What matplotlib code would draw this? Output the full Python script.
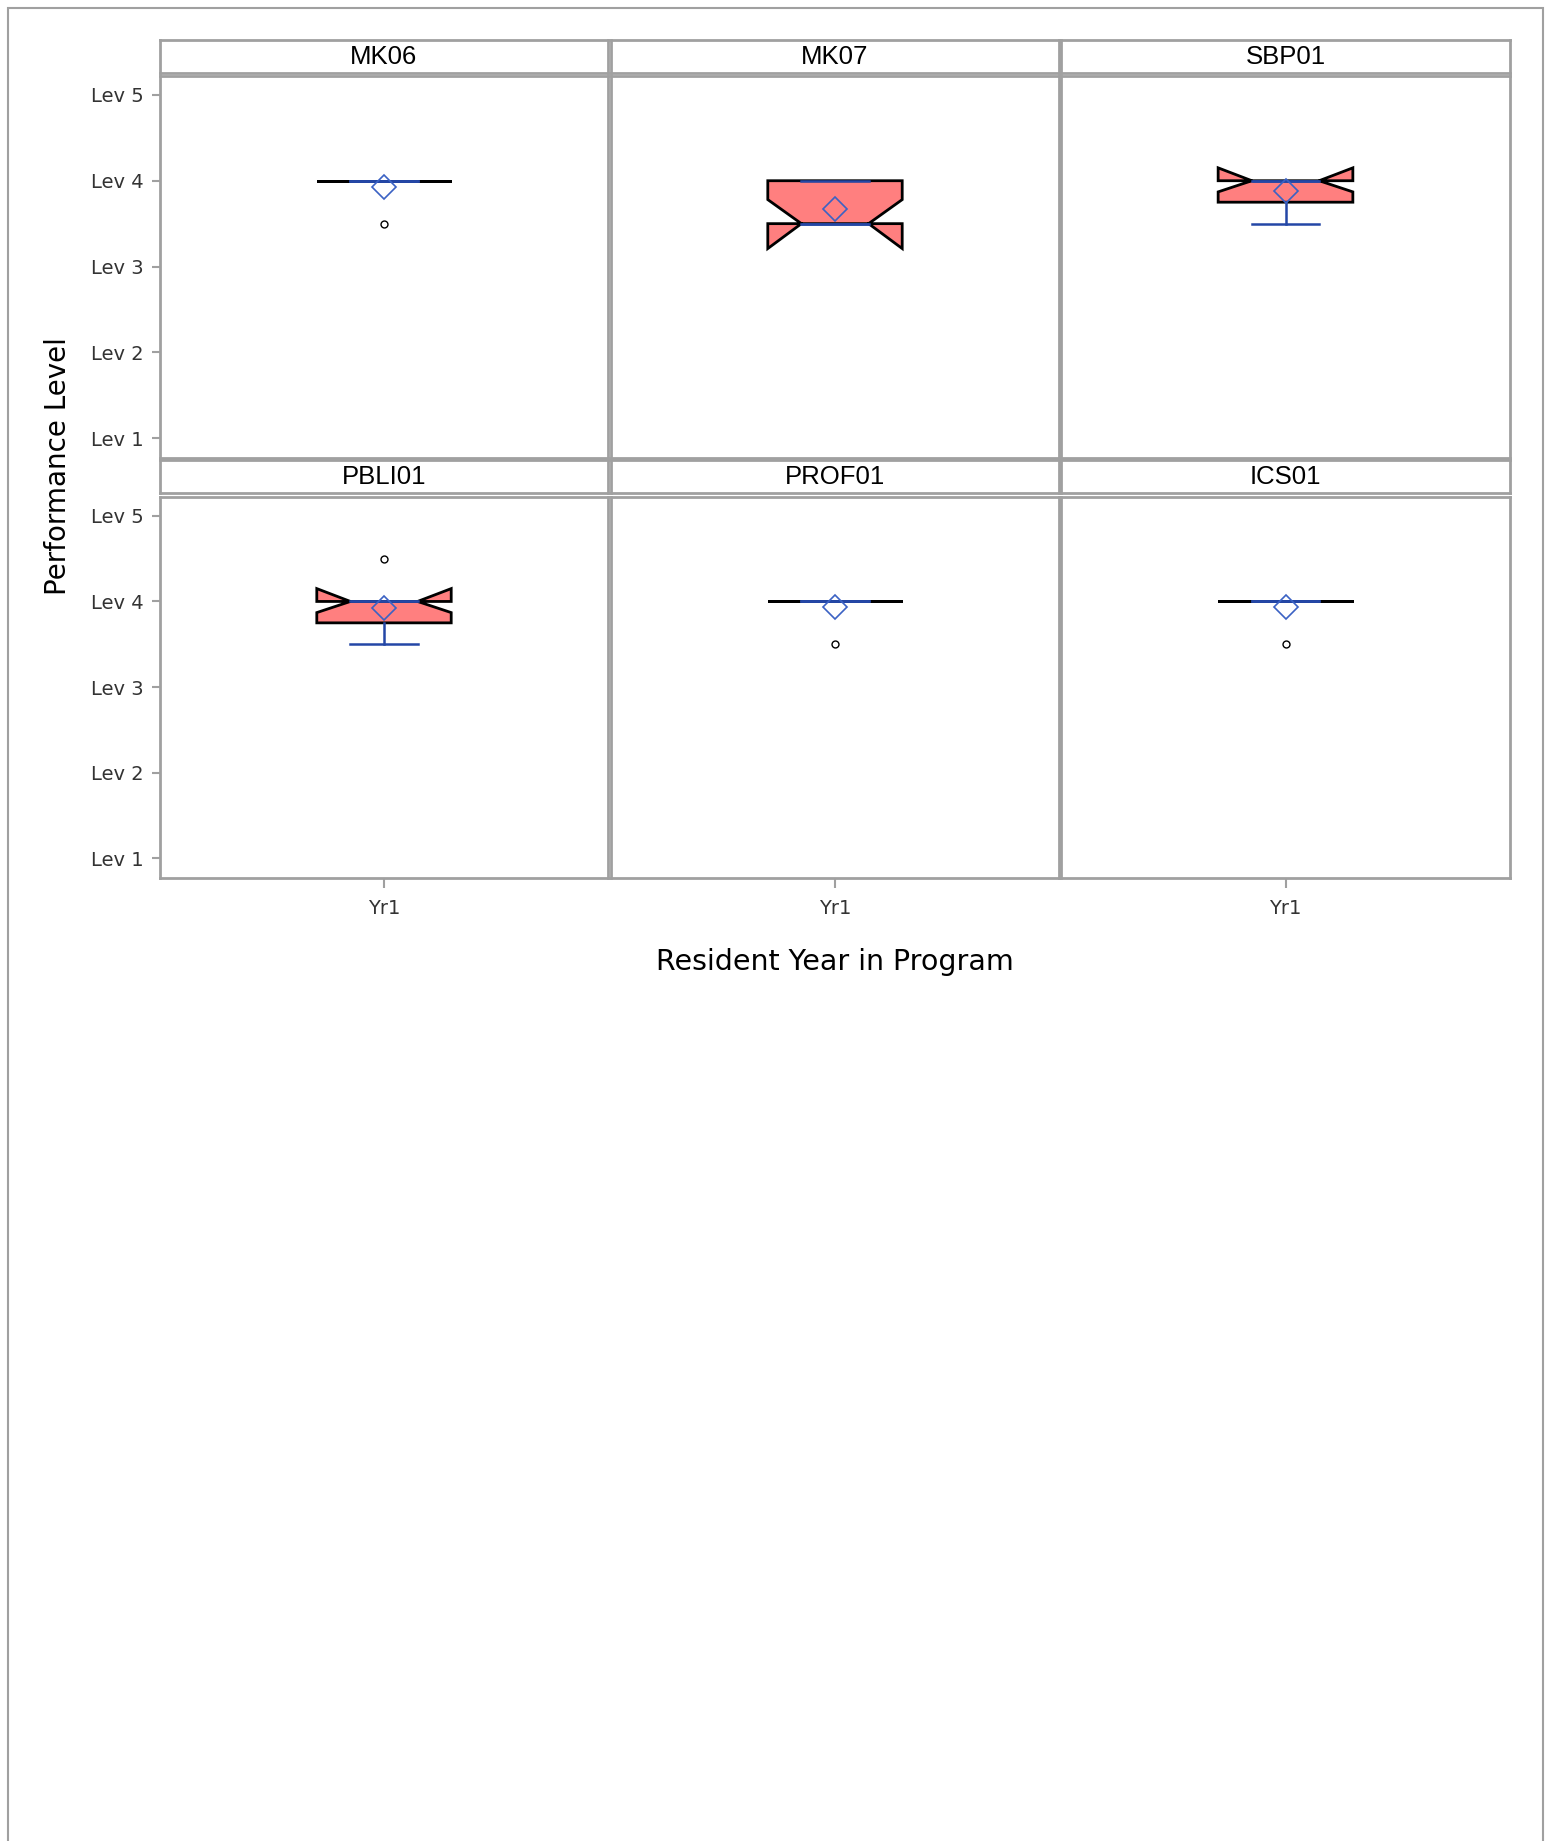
import matplotlib
matplotlib.use('Agg')
import matplotlib.pyplot as plt
from matplotlib.patches import Rectangle

# summary stats per panel
panels = ['MK06', 'MK07', 'SBP01', 'PBLI01', 'PROF01', 'ICS01']
q1 = [4.0, 3.5, 3.75, 3.75, 4.0, 4.0]
med = [4.0, 3.5, 4.0, 4.0, 4.0, 4.0]
q3 = [4.0, 4.0, 4.0, 4.0, 4.0, 4.0]
whislo = [4.0, 3.5, 3.5, 3.5, 4.0, 4.0]
whishi = [4.0, 4.0, 4.0, 4.0, 4.0, 4.0]
means = [3.93, 3.67, 3.88, 3.92, 3.93, 3.93]
cilo = [4.0, 3.21, 3.87, 3.87, 4.0, 4.0]
cihi = [4.0, 3.78, 4.15, 4.15, 4.0, 4.0]
outliers = [[3.5], [], [], [4.5], [3.5], [3.5]]
years = ['Yr1']
levels = [1, 2, 3, 4, 5]
level_labels = ['Lev 1', 'Lev 2', 'Lev 3', 'Lev 4', 'Lev 5']

W, H = 1551, 1841
GRAY = '#a0a0a0'
BLUE = '#2447a6'
FILL = '#ff7f7f'
TICKFONT = ['DejaVu Sans']

fig = plt.figure(figsize=(W / 100, H / 100), dpi=100)


def px_axes(x0, y0, x1, y1):
    # pixel box (top-left origin) -> figure axes
    return fig.add_axes([x0 / W, 1 - y1 / H, (x1 - x0) / W, (y1 - y0) / H])


cols = [(160, 608), (611, 1059), (1061, 1510)]
rows = [((40, 73), (76, 458)), ((460, 493), (497, 878))]

for i, name in enumerate(panels):
    r, c = divmod(i, 3)
    (hy0, hy1), (py0, py1) = rows[r]
    x0, x1 = cols[c]

    # strip header
    hax = px_axes(x0, hy0, x1, hy1)
    hax.set_xticks([])
    hax.set_yticks([])
    for s in hax.spines.values():
        s.set_color(GRAY)
        s.set_linewidth(2)
    hax.text(0.5, 0.47, name, ha='center', va='center', fontsize=18.5,
             family=['Liberation Sans', 'DejaVu Sans'], color='black')

    ax = px_axes(x0, py0, x1, py1)
    stats = [{
        'med': med[i], 'q1': q1[i], 'q3': q3[i],
        'whislo': whislo[i], 'whishi': whishi[i],
        'mean': means[i], 'cilo': cilo[i], 'cihi': cihi[i],
        'fliers': outliers[i], 'label': years[0],
    }]
    ax.bxp(stats, positions=[1], widths=0.3, shownotches=True, showmeans=True,
           patch_artist=True,
           boxprops=dict(facecolor=FILL, edgecolor='black', linewidth=2.0),
           medianprops=dict(color=BLUE, linewidth=1.8),
           whiskerprops=dict(color=BLUE, linewidth=1.8),
           capprops=dict(color=BLUE, linewidth=1.8),
           meanprops=dict(marker='D', markerfacecolor='none',
                          markeredgecolor='#3b62c4', markersize=12,
                          markeredgewidth=1.2),
           flierprops=dict(marker='o', markerfacecolor='none',
                           markeredgecolor='black', markersize=5,
                           markeredgewidth=1.0))
    ax.set_xlim(0.5, 1.5)
    ax.set_ylim(0.77, 5.22)
    for s in ax.spines.values():
        s.set_color(GRAY)
        s.set_linewidth(2)

    if c == 0:
        ax.set_yticks(levels)
        ax.set_yticklabels(level_labels, fontsize=14, family=TICKFONT, color='#333333')
    else:
        ax.set_yticks([])
    if r == 1:
        ax.set_xticks([1])
        ax.set_xticklabels(years, fontsize=14, family=TICKFONT, color='#333333')
    else:
        ax.set_xticks([])
    ax.tick_params(axis='y', color=GRAY, length=6, width=1.5, pad=6)
    ax.tick_params(axis='x', color=GRAY, length=7, width=1.5, pad=8)

fig.text(58 / W, 1 - 466 / H, 'Performance Level', rotation=90,
         ha='center', va='center', fontsize=20, color='black')
fig.text(835 / W, 1 - 962 / H, 'Resident Year in Program',
         ha='center', va='center', fontsize=20.5, color='black')

# outer page frame
fig.patches.append(Rectangle((8 / W, -0.01), (1543 - 8) / W, 1 - 8 / H + 0.01,
                             transform=fig.transFigure, fill=False,
                             edgecolor=GRAY, linewidth=1.5))

fig.savefig('out.png', dpi=100, facecolor='white')
